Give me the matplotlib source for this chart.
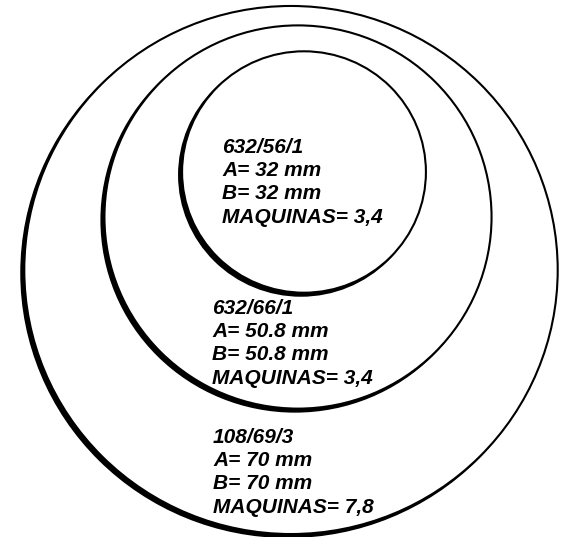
import matplotlib.pyplot as plt
from matplotlib.patches import Ellipse

# Data (outer -> inner)
codes = ["108/69/3", "632/66/1", "632/56/1"]
a_mm = [70, 50.8, 32]
b_mm = [70, 50.8, 32]
maquinas = ["7,8", "3,4", "3,4"]

# Layout in pixels
W, H = 561, 537
px_per_mm = 7.62
centers = [(291, 270), (298, 217), (304, 172)]
text_xy = [(213, 443), (212, 314), (222, 153)]
line_gap = 23.2
shadow = (-3, 3)

fig = plt.figure(figsize=(W / 100, H / 100), dpi=100)
ax = fig.add_axes([0, 0, 1, 1])
ax.set_xlim(0, W)
ax.set_ylim(H, 0)
ax.set_aspect("equal")
ax.axis("off")

for i, (cx, cy) in enumerate(centers):
    w = a_mm[i] * px_per_mm
    h = b_mm[i] * px_per_mm * 0.99
    ax.add_patch(Ellipse((cx + shadow[0], cy + shadow[1]), w, h,
                         facecolor="black", edgecolor="black", lw=1.5, zorder=2 * i))
    ax.add_patch(Ellipse((cx, cy), w, h,
                         facecolor="white", edgecolor="black", lw=1.5, zorder=2 * i + 1))

for i, (tx, ty) in enumerate(text_xy):
    a_txt = f"{a_mm[i]:g}"
    b_txt = f"{b_mm[i]:g}"
    lines = [codes[i], f"A= {a_txt} mm", f"B= {b_txt} mm", f"MAQUINAS= {maquinas[i]}"]
    for k, s in enumerate(lines):
        ax.text(tx, ty + k * line_gap, s, fontsize=15, fontweight="bold",
                fontstyle="italic", family=["Liberation Sans", "DejaVu Sans"],
                ha="left", va="baseline", zorder=20)

fig.savefig("out.png", dpi=100, facecolor="white")
